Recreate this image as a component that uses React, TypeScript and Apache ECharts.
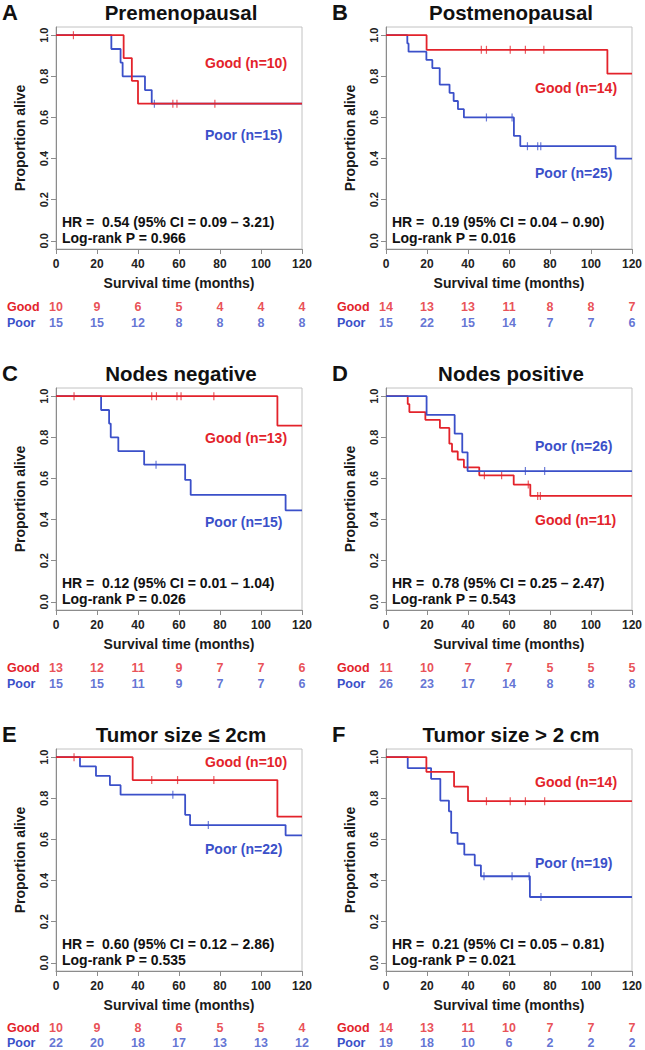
import React, { useEffect, useRef } from "react";
import * as echarts from "echarts";

// ---------- data ----------
const TIME_TICKS = [0, 20, 40, 60, 80, 100, 120];
const Y_TICKS = [0, 0.2, 0.4, 0.6, 0.8, 1.0];

const letters = ["A", "B", "C", "D", "E", "F"];
const titles = [
  "Premenopausal",
  "Postmenopausal",
  "Nodes negative",
  "Nodes positive",
  "Tumor size \u2264 2cm",
  "Tumor size > 2 cm",
];
const hrTexts = [
  "HR =  0.54 (95% CI = 0.09 \u2013 3.21)",
  "HR =  0.19 (95% CI = 0.04 \u2013 0.90)",
  "HR =  0.12 (95% CI = 0.01 \u2013 1.04)",
  "HR =  0.78 (95% CI = 0.25 \u2013 2.47)",
  "HR =  0.60 (95% CI = 0.12 \u2013 2.86)",
  "HR =  0.21 (95% CI = 0.05 \u2013 0.81)",
];
const pTexts = [
  "Log-rank P = 0.966",
  "Log-rank P = 0.016",
  "Log-rank P = 0.026",
  "Log-rank P = 0.543",
  "Log-rank P = 0.535",
  "Log-rank P = 0.021",
];
const goodLabels = ["Good (n=10)", "Good (n=14)", "Good (n=13)", "Good (n=11)", "Good (n=10)", "Good (n=14)"];
const poorLabels = ["Poor (n=15)", "Poor (n=25)", "Poor (n=15)", "Poor (n=26)", "Poor (n=22)", "Poor (n=19)"];

// at-risk tables
const aGoodRisk = [10, 9, 6, 5, 4, 4, 4];
const aPoorRisk = [15, 15, 12, 8, 8, 8, 8];
const bGoodRisk = [14, 13, 13, 11, 8, 8, 7];
const bPoorRisk = [15, 22, 15, 14, 7, 7, 6];
const cGoodRisk = [13, 12, 11, 9, 7, 7, 6];
const cPoorRisk = [15, 15, 11, 9, 7, 7, 6];
const dGoodRisk = [11, 10, 7, 7, 5, 5, 5];
const dPoorRisk = [26, 23, 17, 14, 8, 8, 8];
const eGoodRisk = [10, 9, 8, 6, 5, 5, 4];
const ePoorRisk = [22, 20, 18, 17, 13, 13, 12];
const fGoodRisk = [14, 13, 11, 10, 7, 7, 7];
const fPoorRisk = [19, 18, 10, 6, 2, 2, 2];

// Kaplan-Meier curves [months, survival]
const aGoodCurve = [[0, 1], [33, 0.889], [37, 0.778], [40, 0.667], [120, 0.667]];
const aGoodCensor = [[8.5, 1], [57, 0.667], [59, 0.667], [77.5, 0.667]];
const aPoorCurve = [[0, 1], [27, 0.933], [31.5, 0.867], [32.5, 0.8], [43.4, 0.733], [46.7, 0.667], [120, 0.667]];
const aPoorCensor = [[48, 0.667]];

const bGoodCurve = [[0, 1], [19.8, 0.929], [108, 0.813], [120, 0.813]];
const bGoodCensor = [[46.5, 0.929], [49, 0.929], [60.6, 0.929], [68, 0.929], [77, 0.929]];
const bPoorCurve = [[0, 1], [10.4, 0.96], [11, 0.92], [19.7, 0.88], [22.6, 0.84], [26.2, 0.76], [31, 0.72], [33, 0.68], [35.1, 0.64], [38, 0.6], [62.4, 0.51], [65.5, 0.46], [112, 0.4], [120, 0.4]];
const bPoorCensor = [[49, 0.6], [61.5, 0.6], [69, 0.46], [74, 0.46], [75.5, 0.46]];

const cGoodCurve = [[0, 1], [108, 0.857], [120, 0.857]];
const cGoodCensor = [[8.8, 1], [46.7, 1], [49, 1], [59, 1], [61, 1], [77, 1]];
const cPoorCurve = [[0, 1], [22, 0.933], [25.9, 0.867], [26.7, 0.8], [30.4, 0.733], [43, 0.667], [63, 0.593], [65.7, 0.52], [112, 0.445], [120, 0.445]];
const cPoorCensor = [[48.8, 0.667]];

const dGoodCurve = [[0, 1], [10.6, 0.962], [11.4, 0.923], [19.2, 0.885], [26.3, 0.846], [30.9, 0.769], [32.2, 0.731], [35, 0.692], [38, 0.654], [45.5, 0.615], [62.3, 0.57], [70.4, 0.515], [120, 0.515]];
const dGoodCensor = [[48, 0.615], [56.4, 0.615], [69.4, 0.57], [74, 0.515], [75.3, 0.515]];
const dPoorCurve = [[0, 1], [19.8, 0.909], [33.5, 0.818], [37.2, 0.727], [39.8, 0.636], [120, 0.636]];
const dPoorCensor = [[68, 0.636], [77.4, 0.636]];

const eGoodCurve = [[0, 1], [37.4, 0.889], [108, 0.711], [120, 0.711]];
const eGoodCensor = [[8.8, 1], [46.7, 0.889], [59.3, 0.889], [77, 0.889]];
const ePoorCurve = [[0, 1], [11.7, 0.955], [19.5, 0.909], [26.3, 0.864], [31.5, 0.818], [63, 0.72], [65.4, 0.67], [112, 0.62], [120, 0.62]];
const ePoorCensor = [[57, 0.818], [74.3, 0.67]];

const fGoodCurve = [[0, 1], [19.7, 0.929], [33.2, 0.857], [40, 0.786], [120, 0.786]];
const fGoodCensor = [[49, 0.786], [60.6, 0.786], [68, 0.786], [77.4, 0.786]];
const fPoorCurve = [[0, 1], [10.6, 0.947], [22, 0.895], [26.5, 0.789], [30.7, 0.737], [31.8, 0.632], [34.9, 0.579], [38.2, 0.526], [43.3, 0.474], [46.3, 0.421], [70.2, 0.32], [120, 0.32]];
const fPoorCensor = [[47.8, 0.421], [61.5, 0.421], [69.8, 0.421], [75.6, 0.32]];

// ---------- layout ----------
const RED = "#e3232b";
const BLUE = "#3b50c9";
const FONT = "'Liberation Sans', Arial, Helvetica, sans-serif";
const COL_X = [56, 386];
const ROW_Y = [27, 388, 749];
const PLOT_W = 246;
const PLOT_H = 222;
// label offsets relative to plot top-left: [dx, dyGood, dyPoor]
const LABEL_POS = [
  [149, 36, 108],
  [149, 61, 146],
  [149, 50, 134],
  [149, 132, 58],
  [149, 13, 100],
  [149, 33, 114],
];
const GOOD_ON_TOP = [true, true, true, false, true, true];

const panels = [
  { good: aGoodCurve, goodC: aGoodCensor, poor: aPoorCurve, poorC: aPoorCensor, gRisk: aGoodRisk, pRisk: aPoorRisk },
  { good: bGoodCurve, goodC: bGoodCensor, poor: bPoorCurve, poorC: bPoorCensor, gRisk: bGoodRisk, pRisk: bPoorRisk },
  { good: cGoodCurve, goodC: cGoodCensor, poor: cPoorCurve, poorC: cPoorCensor, gRisk: cGoodRisk, pRisk: cPoorRisk },
  { good: dGoodCurve, goodC: dGoodCensor, poor: dPoorCurve, poorC: dPoorCensor, gRisk: dGoodRisk, pRisk: dPoorRisk },
  { good: eGoodCurve, goodC: eGoodCensor, poor: ePoorCurve, poorC: ePoorCensor, gRisk: eGoodRisk, pRisk: ePoorRisk },
  { good: fGoodCurve, goodC: fGoodCensor, poor: fPoorCurve, poorC: fPoorCensor, gRisk: fGoodRisk, pRisk: fPoorRisk },
];

function txt(x: number, y: number, text: string, size: number, color: string, align = "left") {
  return {
    type: "text",
    x,
    y,
    silent: true,
    style: {
      text,
      fill: color,
      fontSize: size,
      fontWeight: "bold",
      fontFamily: FONT,
      textAlign: align,
      textVerticalAlign: "middle",
      verticalAlign: "middle",
    },
  };
}

export default function App() {
  const ref = useRef<HTMLDivElement>(null);

  useEffect(() => {
    if (!ref.current) return;
    const chart = echarts.init(ref.current, null, { renderer: "svg" });
    const grid: any[] = [];
    const xAxis: any[] = [];
    const yAxis: any[] = [];
    const series: any[] = [];
    const graphic: any[] = [];

    panels.forEach((p, i) => {
      const c = i % 2;
      const r = Math.floor(i / 2);
      const left = COL_X[c];
      const top = ROW_Y[r];
      const gi = i * 2;
      const ri = i * 2 + 1;

      grid.push({
        left,
        top,
        width: PLOT_W,
        height: PLOT_H,
        show: true,
        borderColor: "#c2c2c2",
        borderWidth: 1,
        backgroundColor: "transparent",
      });
      xAxis.push({
        gridIndex: gi,
        type: "value",
        min: 0,
        max: 120,
        interval: 20,
        axisLine: { show: true, onZero: false, lineStyle: { color: "#8c8c8c", width: 1 } },
        axisTick: { show: true, length: 5, lineStyle: { color: "#8c8c8c" } },
        axisLabel: { margin: 9, fontSize: 12, fontWeight: "bold", color: "#222", fontFamily: FONT },
        splitLine: { show: false },
        name: "Survival time (months)",
        nameLocation: "middle",
        nameGap: 27,
        nameTextStyle: { fontSize: 14, fontWeight: "bold", color: "#1a1a1a", fontFamily: FONT },
      });
      yAxis.push({
        gridIndex: gi,
        type: "value",
        min: -0.04,
        max: 1.04,
        axisLine: { show: true, onZero: false, lineStyle: { color: "#8c8c8c", width: 1 } },
        axisTick: { show: true, length: 5, customValues: Y_TICKS, lineStyle: { color: "#8c8c8c" } },
        axisLabel: {
          customValues: Y_TICKS,
          rotate: 90,
          margin: 7,
          fontSize: 11,
          fontWeight: "bold",
          color: "#222",
          fontFamily: FONT,
          formatter: (v: number) => v.toFixed(1),
        },
        splitLine: { show: false },
        name: "Proportion alive",
        nameLocation: "middle",
        nameRotate: 90,
        nameGap: 29,
        nameTextStyle: { fontSize: 14, fontWeight: "bold", color: "#1a1a1a", fontFamily: FONT },
      });

      const goodSeries = [
        {
          type: "line",
          xAxisIndex: gi,
          yAxisIndex: gi,
          step: "end",
          data: p.good,
          symbol: "none",
          showSymbol: false,
          silent: true,
          lineStyle: { color: RED, width: 1.8 },
          itemStyle: { color: RED },
        },
        {
          type: "scatter",
          xAxisIndex: gi,
          yAxisIndex: gi,
          data: p.goodC,
          symbol: "rect",
          symbolSize: [1.2, 8],
          silent: true,
          itemStyle: { color: RED, opacity: 0.75 },
        },
      ];
      const poorSeries = [
        {
          type: "line",
          xAxisIndex: gi,
          yAxisIndex: gi,
          step: "end",
          data: p.poor,
          symbol: "none",
          showSymbol: false,
          silent: true,
          lineStyle: { color: BLUE, width: 1.8 },
          itemStyle: { color: BLUE },
        },
        {
          type: "scatter",
          xAxisIndex: gi,
          yAxisIndex: gi,
          data: p.poorC,
          symbol: "rect",
          symbolSize: [1.2, 8],
          silent: true,
          itemStyle: { color: BLUE, opacity: 0.75 },
        },
      ];
      if (GOOD_ON_TOP[i]) series.push(...poorSeries, ...goodSeries);
      else series.push(...goodSeries, ...poorSeries);

      // risk table grid
      grid.push({ left, top: top + 272, width: PLOT_W, height: 32 });
      xAxis.push({ gridIndex: ri, type: "value", min: 0, max: 120, show: false });
      yAxis.push({
        gridIndex: ri,
        type: "category",
        data: ["Good", "Poor"],
        inverse: true,
        axisLine: { show: false },
        axisTick: { show: false },
        splitLine: { show: false },
        axisLabel: {
          interval: 0,
          hideOverlap: false,
          margin: 49,
          align: "left",
          fontSize: 12.5,
          fontWeight: "bold",
          fontFamily: FONT,
          color: (v: string) => (v === "Good" ? RED : BLUE),
        },
      });
      [
        { counts: p.gRisk, row: 0, color: RED },
        { counts: p.pRisk, row: 1, color: BLUE },
      ].forEach((rk) => {
        series.push({
          type: "scatter",
          xAxisIndex: ri,
          yAxisIndex: ri,
          data: rk.counts.map((v, k) => [TIME_TICKS[k], rk.row, v]),
          symbolSize: 1,
          silent: true,
          itemStyle: { color: "rgba(0,0,0,0)" },
          label: {
            show: true,
            position: "inside",
            formatter: (q: any) => String(q.value[2]),
            color: rk.color,
            fontSize: 12.5,
            fontWeight: "bold",
            fontFamily: FONT,
          },
        });
      });

      // texts
      graphic.push(txt(left - 54, top - 14.5, letters[i], 22, "#111"));
      graphic.push(txt(left + PLOT_W / 2 + 2, top - 14.5, titles[i], 20.5, "#111", "center"));
      const lp = LABEL_POS[i];
      graphic.push(txt(left + lp[0], top + lp[1], goodLabels[i], 14, RED));
      graphic.push(txt(left + lp[0], top + lp[2], poorLabels[i], 14, BLUE));
      graphic.push(txt(left + 6, top + 195, hrTexts[i], 14, "#111"));
      graphic.push(txt(left + 6, top + 211, pTexts[i], 14, "#111"));
    });

    chart.setOption({
      animation: false,
      backgroundColor: "#ffffff",
      grid,
      xAxis,
      yAxis,
      series,
      graphic,
    });
    return () => chart.dispose();
  }, []);

  return (
    <div
      ref={ref}
      style={{ position: "absolute", left: 0, top: 0, width: 645, height: 1050, background: "#fff" }}
    />
  );
}
